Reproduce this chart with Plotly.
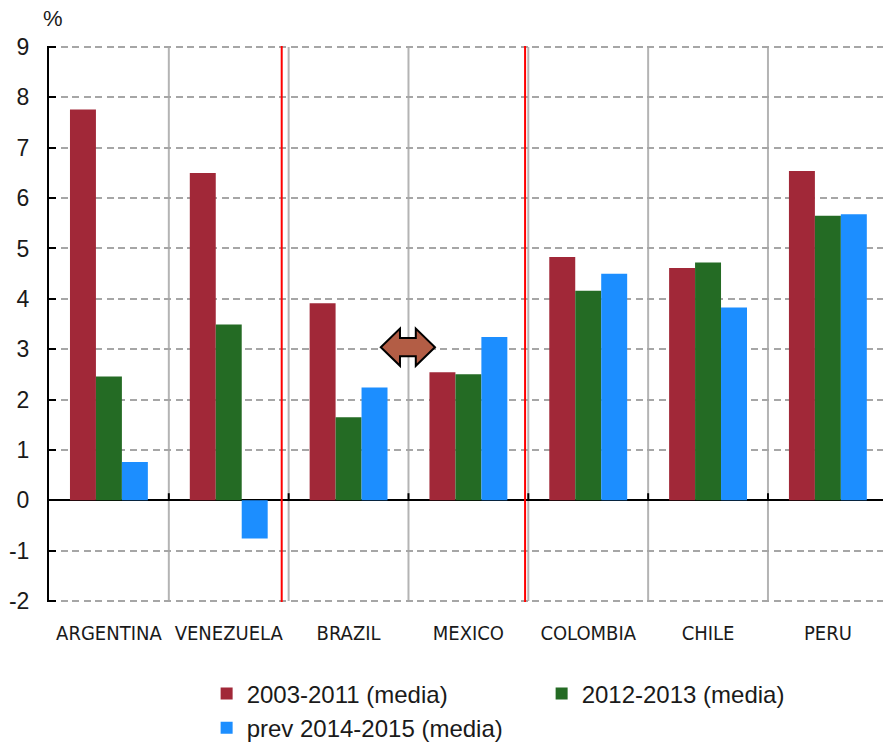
import plotly.graph_objects as go

# Country groups on the x axis
countries = ["ARGENTINA", "VENEZUELA", "BRAZIL", "MEXICO", "COLOMBIA", "CHILE", "PERU"]

# Average growth, % per period
avg_2003_2011 = [7.76, 6.50, 3.91, 2.54, 4.83, 4.61, 6.54]
avg_2012_2013 = [2.46, 3.49, 1.65, 2.50, 4.16, 4.72, 5.65]
prev_2014_2015 = [0.76, -0.76, 2.24, 3.24, 4.50, 3.83, 5.68]

series_names = ["2003-2011 (media)", "2012-2013 (media)", "prev 2014-2015 (media)"]
series_colors = ["#A12838", "#246B24", "#1C8EFF"]

y_ticks = list(range(-2, 10))
y_tick_labels = [str(v) for v in y_ticks]

fig = go.Figure()
for name, vals, col in zip(series_names, [avg_2003_2011, avg_2012_2013, prev_2014_2015], series_colors):
    fig.add_trace(go.Bar(
        x=countries, y=vals, name=name,
        marker=dict(color=col, line=dict(width=0)),
    ))

shapes = []
# light grey separators between country groups
for k in range(len(countries) - 1):
    shapes.append(dict(type="line", xref="x", yref="y", x0=k + 0.5, x1=k + 0.5,
                       y0=-2, y1=9, line=dict(color="#B4B4B4", width=2), layer="below"))
    # small black ticks on the zero line
    shapes.append(dict(type="line", xref="x", yref="y", x0=k + 0.5, x1=k + 0.5,
                       y0=0, y1=0.14, line=dict(color="black", width=2), layer="above"))

# red dividers between country blocks
shapes.append(dict(type="line", xref="x", yref="y", x0=1.442, x1=1.442, y0=-2.17, y1=9.08,
                   line=dict(color="#FF0000", width=2), layer="above"))
shapes.append(dict(type="line", xref="x", yref="y", x0=3.473, x1=3.473, y0=-2.04, y1=9.22,
                   line=dict(color="#FF0000", width=2), layer="above"))

# double-headed arrow between BRAZIL and MEXICO
cx, cy = 2.495, 3.04
tip, base = 0.226, 0.066
hh, sh = 0.37, 0.18
arrow = (f"M {cx - tip},{cy} L {cx - base},{cy + hh} L {cx - base},{cy + sh} "
         f"L {cx + base},{cy + sh} L {cx + base},{cy + hh} L {cx + tip},{cy} "
         f"L {cx + base},{cy - hh} L {cx + base},{cy - sh} L {cx - base},{cy - sh} "
         f"L {cx - base},{cy - hh} Z")
shapes.append(dict(type="path", xref="x", yref="y", path=arrow,
                   fillcolor="#B35D45", line=dict(color="black", width=2), layer="above"))

fig.update_layout(
    width=883, height=751,
    margin=dict(l=49, r=0, t=46, b=146),
    paper_bgcolor="white", plot_bgcolor="white",
    barmode="group", bargap=0.35, bargroupgap=0,
    font=dict(family="Liberation Sans, Arial, sans-serif", color="#1a1a1a"),
    shapes=shapes,
    showlegend=True,
    legend=dict(
        orientation="h", xref="paper", yref="paper",
        x=0.189, xanchor="left", y=-0.125, yanchor="top",
        entrywidth=290, traceorder="normal",
        font=dict(family="Liberation Sans, Arial, sans-serif", size=24, color="#1a1a1a"),
        bgcolor="rgba(0,0,0,0)",
    ),
    annotations=[dict(
        text="%", xref="paper", yref="paper", x=-0.009, y=1.05,
        xanchor="left", yanchor="middle", showarrow=False,
        font=dict(family="Liberation Sans, Arial, sans-serif", size=22, color="#1a1a1a"),
    )],
)

fig.update_xaxes(
    type="category", range=[-0.5, 6.46],
    showgrid=False, zeroline=False, showline=False, ticks="",
    tickangle=0,
    tickfont=dict(family="DejaVu Sans Condensed, Liberation Sans Narrow, Liberation Sans, Arial",
                  size=20, color="#1a1a1a"),
    ticklabelstandoff=17,
)

fig.update_yaxes(
    range=[-2.02, 9.02], tickvals=y_ticks, ticktext=y_tick_labels,
    showgrid=True, gridcolor="#A6A6A6", gridwidth=2, griddash="7px,4.5px",
    zeroline=True, zerolinecolor="black", zerolinewidth=2,
    showline=True, linecolor="black", linewidth=2,
    ticks="inside", ticklen=7, tickwidth=2, tickcolor="black",
    tickfont=dict(family="Liberation Sans, Arial", size=23, color="#1a1a1a"),
    ticklabelstandoff=13,
)

fig.write_html("out.html")
